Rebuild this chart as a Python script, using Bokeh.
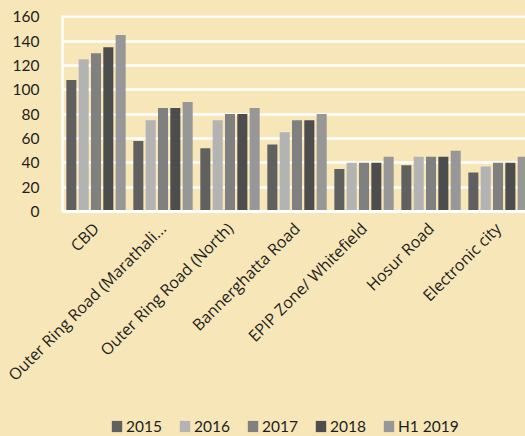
import math
from bokeh.plotting import figure
from bokeh.layouts import column
from bokeh.models import Range1d, FixedTicker, ColumnDataSource, Legend, LegendItem
from bokeh.transform import dodge
from bokeh.embed import file_html
from bokeh.resources import INLINE

categories = ["CBD", "Outer Ring Road (Marathali...", "Outer Ring Road (North)",
              "Bannerghatta Road", "EPIP Zone/ Whitefield", "Hosur Road", "Electronic city"]
series = ["2015", "2016", "2017", "2018", "H1 2019"]
v2015 = [108, 58, 52, 55, 35, 38, 32]
v2016 = [125, 75, 75, 65, 40, 45, 37]
v2017 = [130, 85, 80, 75, 40, 45, 40]
v2018 = [135, 85, 80, 75, 40, 45, 40]
vH12019 = [145, 90, 85, 80, 45, 50, 45]
y_ticks = [0, 20, 40, 60, 80, 100, 120, 140, 160]

colors = ["#606060", "#B3B3B3", "#808080", "#4D4D4D", "#979797"]
BG = "#F7E6B8"
TXT = "#1E1E1E"

xpos = [i + 0.5 for i in range(len(categories))]
src = ColumnDataSource(dict(x=xpos, s0=v2015, s1=v2016, s2=v2017, s3=v2018, s4=vH12019))

p = figure(width=525, height=416, output_backend="svg", toolbar_location=None,
           x_range=Range1d(0, 6.91), y_range=Range1d(0, 161),
           min_border_left=62, min_border_right=0, min_border_top=15, min_border_bottom=205)
p.background_fill_color = BG
p.border_fill_color = BG
p.outline_line_color = None

offsets = [-0.368, -0.184, 0.0, 0.184, 0.368]
for k, (col, off) in enumerate(zip(colors, offsets)):
    p.vbar(x=dodge("x", off), top="s%d" % k, width=0.15, source=src,
           fill_color=col, line_color=None)

p.xgrid.grid_line_color = None
p.ygrid.grid_line_color = "white"
p.ygrid.grid_line_width = 2.5
p.ygrid.ticker = FixedTicker(ticks=y_ticks)

p.yaxis.ticker = FixedTicker(ticks=y_ticks)
p.yaxis.axis_line_color = "white"
p.yaxis.axis_line_width = 2.5
p.yaxis.major_tick_line_color = None
p.yaxis.minor_tick_line_color = None
p.yaxis.major_label_text_font = "Lato"
p.yaxis.major_label_text_font_size = "15.5px"
p.yaxis.major_label_text_color = TXT
p.yaxis.major_label_standoff = 17

p.xaxis.ticker = FixedTicker(ticks=xpos)
p.xaxis.major_label_overrides = {x: c for x, c in zip(xpos, categories)}
p.xaxis.major_label_orientation = math.pi / 4
p.xaxis.axis_line_color = "white"
p.xaxis.axis_line_width = 3
p.xaxis.major_tick_line_color = None
p.xaxis.minor_tick_line_color = None
p.xaxis.major_label_text_font = "Open Sans"
p.xaxis.major_label_text_font_size = "16px"
p.xaxis.major_label_text_color = TXT
p.xaxis.major_label_standoff = 8

# legend strip
lg = figure(width=525, height=20, output_backend="svg", toolbar_location=None,
            x_range=Range1d(0, 1), y_range=Range1d(0, 1),
            x_axis_type=None, y_axis_type=None,
            min_border_left=0, min_border_right=0, min_border_top=0, min_border_bottom=0)
lg.background_fill_color = BG
lg.border_fill_color = BG
lg.outline_line_color = None
lg.grid.visible = False
items = []
for name, col in zip(series, colors):
    r = lg.vbar(x=[0], top=[0], bottom=[0], width=0.0, fill_color=col, line_color=None)
    items.append(LegendItem(label=name, renderers=[r]))
legend = Legend(items=items, orientation="horizontal", location=(48, 1),
                background_fill_alpha=0.0, border_line_color=None,
                label_text_font="Lato", label_text_font_size="15.5px",
                label_text_color=TXT, glyph_width=13, glyph_height=14,
                label_standoff=3, spacing=16, padding=0, margin=0)
lg.add_layout(legend, "center")

layout = column(p, lg, spacing=0)
layout.styles = {"background-color": BG}

html = file_html(layout, INLINE)
html = html.replace("<body>", '<body style="background-color:%s;">' % BG, 1)
open("out.html", "w").write(html)
